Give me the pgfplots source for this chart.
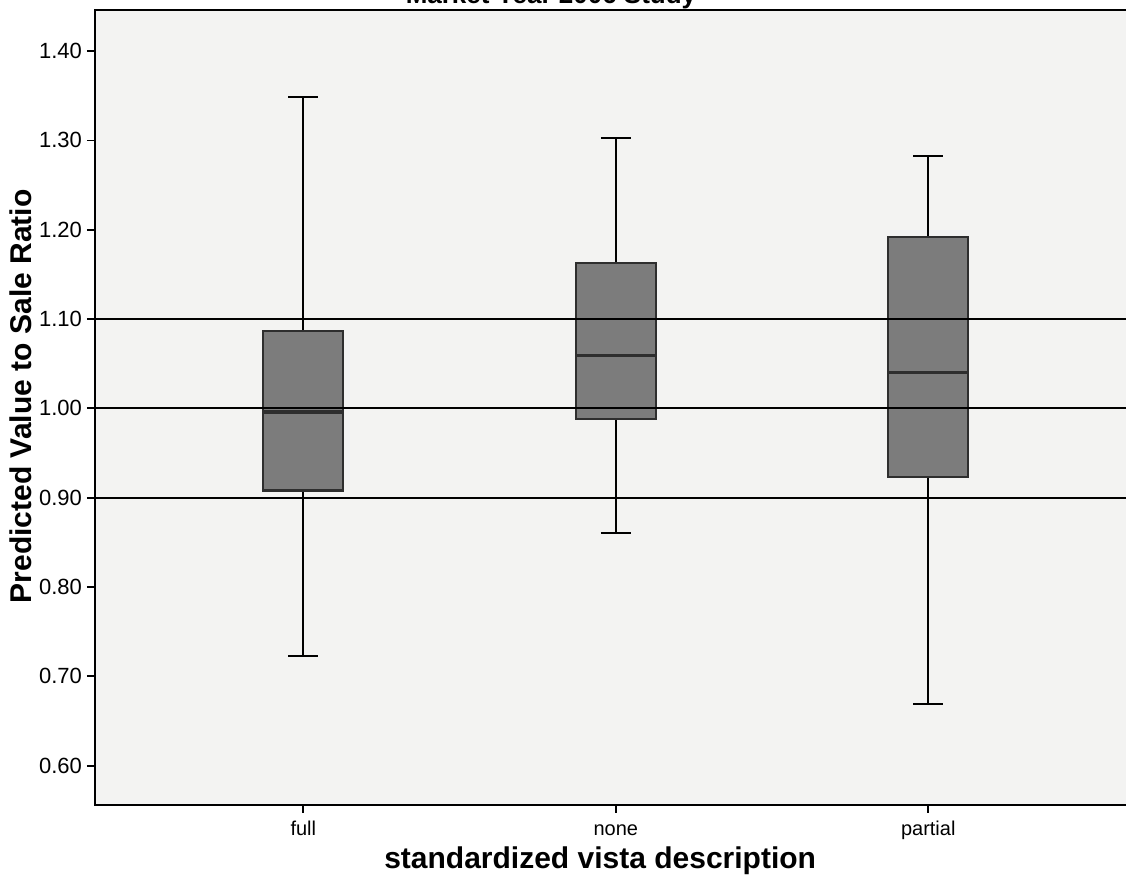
\documentclass[border=0pt]{standalone}
\usepackage{pgfplots}
\pgfplotsset{compat=1.18}
\usepgfplotslibrary{statistics}
\usepackage{fontspec}
\setmainfont{Liberation Sans}
\definecolor{boxgray}{HTML}{7C7C7C}
\definecolor{boxedge}{HTML}{2E2E2E}
\definecolor{bggray}{HTML}{F3F3F2}
\begin{document}
\begin{tikzpicture}
\begin{axis}[
  at={(0,0)}, anchor=south west,
  scale only axis, width=520.8pt, height=397.5pt,
  xmin=0.3333, xmax=3.6667, ymin=0.556, ymax=1.446,
  axis background/.style={fill=bggray},
  axis line style={line width=1pt, black},
  tick align=outside, tick pos=left,
  major tick length=4pt,
  tick style={line width=0.9pt, black},
  xtick={1,2,3}, xticklabels={full,none,partial},
  ytick={0.6,0.7,0.8,0.9,1.0,1.1,1.2,1.3,1.4},
  /pgf/number format/assume math mode=true,
  yticklabel style={/pgf/number format/fixed, /pgf/number format/fixed zerofill, /pgf/number format/precision=2, font=\fontsize{11}{13}\selectfont, xshift=1pt},
  xticklabel style={font=\fontsize{10}{12}\selectfont, text height=7.5pt, text depth=2pt, yshift=0pt},
  xlabel={standardized vista description},
  ylabel={Predicted Value to Sale Ratio},
  xlabel style={font=\fontsize{15}{17}\selectfont\bfseries, at={(ticklabel cs:0.485)}, yshift=3pt},
  ylabel style={font=\fontsize{15}{17}\selectfont\bfseries, at={(ticklabel cs:0.514)}, yshift=-3pt},
  boxplot/draw direction=y,
  boxplot/every box/.style={draw=boxedge, line width=1.1pt, fill=boxgray},
  boxplot/every median/.style={draw=boxedge, line width=1.8pt},
  boxplot/every whisker/.style={draw=black, line width=1pt},
]
\addplot[boxplot prepared={draw position=1, lower whisker=0.723, lower quartile=0.908, median=0.996, upper quartile=1.087, upper whisker=1.349, box extend=0.256, whisker extend=0.096}] coordinates {};
\addplot[boxplot prepared={draw position=2, lower whisker=0.860, lower quartile=0.988, median=1.059, upper quartile=1.163, upper whisker=1.303, box extend=0.256, whisker extend=0.096}] coordinates {};
\addplot[boxplot prepared={draw position=3, lower whisker=0.669, lower quartile=0.923, median=1.040, upper quartile=1.192, upper whisker=1.282, box extend=0.256, whisker extend=0.096}] coordinates {};
\addplot[black, line width=1.1pt] coordinates {(0.3333,0.9) (3.6667,0.9)};
\addplot[black, line width=1.1pt] coordinates {(0.3333,1.0) (3.6667,1.0)};
\addplot[black, line width=1.1pt] coordinates {(0.3333,1.1) (3.6667,1.1)};
\end{axis}
\node[anchor=base, font=\fontsize{13}{15}\selectfont\bfseries] at (228pt,400.5pt) {Market Year 2006 Study};
\pgfresetboundingbox
\path[use as bounding box] (-47.5pt,-41.5pt) rectangle (515.5pt,402.5pt);
\end{tikzpicture}
\end{document}
